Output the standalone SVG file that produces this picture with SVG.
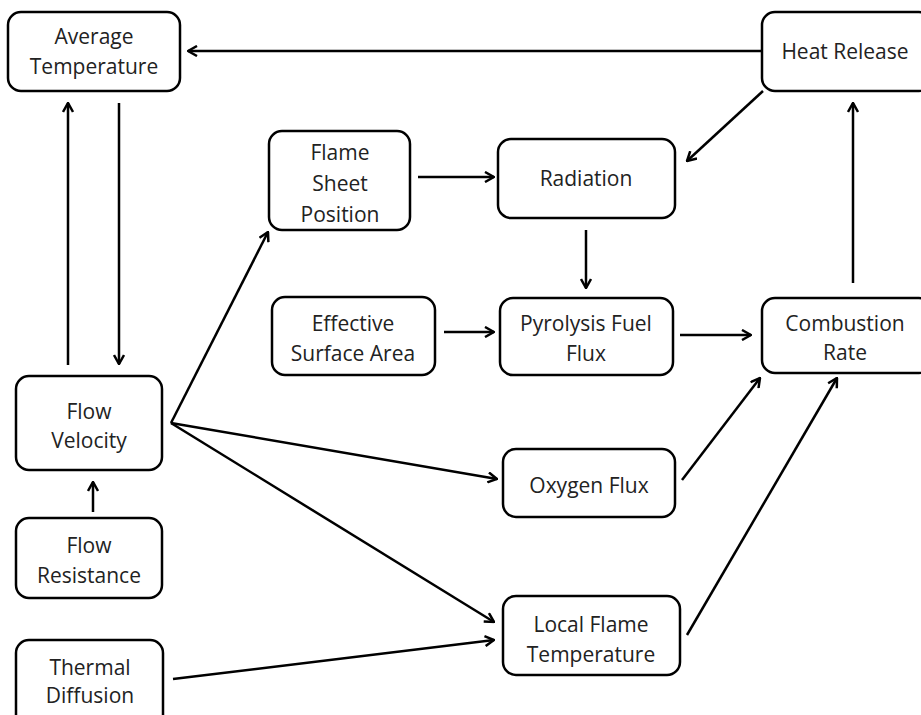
<svg xmlns="http://www.w3.org/2000/svg" width="921" height="715" viewBox="0 0 921 715">
<style>
.box{fill:#fff;stroke:#000;stroke-width:2.5}
.lbl{font-family:"Open Sans","Liberation Sans",sans-serif;font-size:21px;fill:#222;text-anchor:middle}
.con{fill:none;stroke:#000;stroke-width:2.5}
</style>
<defs>
<marker id="ah" viewBox="0 0 12 12" refX="11" refY="6" markerWidth="12" markerHeight="12" markerUnits="userSpaceOnUse" orient="auto">
<path d="M2,1 L11,6 L2,11" fill="none" stroke="#000" stroke-width="2.5"/>
</marker>
</defs>
<rect width="921" height="715" fill="#fff"/>
<g id="connectors">
<path class="con" marker-end="url(#ah)" d="M762,51 L188,51"/>
<path class="con" marker-end="url(#ah)" d="M763,91 L687,161"/>
<path class="con" marker-end="url(#ah)" d="M586,230 L586,288"/>
<path class="con" marker-end="url(#ah)" d="M418,177 L494,177"/>
<path class="con" marker-end="url(#ah)" d="M444,332 L494,332"/>
<path class="con" marker-end="url(#ah)" d="M680,335 L751,335"/>
<path class="con" marker-end="url(#ah)" d="M853,283 L853,103"/>
<path class="con" marker-end="url(#ah)" d="M682,480 L760,378"/>
<path class="con" marker-end="url(#ah)" d="M687,635 L837,378"/>
<path class="con" marker-end="url(#ah)" d="M68,365 L68,103"/>
<path class="con" marker-end="url(#ah)" d="M119,103 L119,364"/>
<path class="con" marker-end="url(#ah)" d="M93,512 L93,482"/>
<path class="con" marker-end="url(#ah)" d="M171,423 L268,232"/>
<path class="con" marker-end="url(#ah)" d="M171,423 L497,479"/>
<path class="con" marker-end="url(#ah)" d="M171,423 L494,622"/>
<path class="con" marker-end="url(#ah)" d="M173,679 L494,640"/>
</g>
<g id="average-temperature">
<rect class="box" x="8" y="12" width="172" height="79" rx="13"/>
<text class="lbl" x="94" y="44">Average</text>
<text class="lbl" x="94" y="74">Temperature</text>
</g>
<g id="heat-release">
<rect class="box" x="762" y="12" width="170" height="79" rx="13"/>
<text class="lbl" x="845" y="59">Heat Release</text>
</g>
<g id="flame-sheet-position">
<rect class="box" x="269" y="131" width="141" height="99" rx="13"/>
<text class="lbl" x="340" y="160">Flame</text>
<text class="lbl" x="340" y="191">Sheet</text>
<text class="lbl" x="340" y="222">Position</text>
</g>
<g id="radiation">
<rect class="box" x="498" y="139" width="177" height="79" rx="13"/>
<text class="lbl" x="586" y="186">Radiation</text>
</g>
<g id="effective-surface-area">
<rect class="box" x="272" y="297" width="163" height="78" rx="13"/>
<text class="lbl" x="353" y="331">Effective</text>
<text class="lbl" x="353" y="361">Surface Area</text>
</g>
<g id="pyrolysis-fuel-flux">
<rect class="box" x="500" y="298" width="173" height="77" rx="13"/>
<text class="lbl" x="586" y="331">Pyrolysis Fuel</text>
<text class="lbl" x="586" y="361">Flux</text>
</g>
<g id="combustion-rate">
<rect class="box" x="762" y="298" width="170" height="75" rx="13"/>
<text class="lbl" x="845" y="331">Combustion</text>
<text class="lbl" x="845" y="360">Rate</text>
</g>
<g id="flow-velocity">
<rect class="box" x="16" y="376" width="146" height="94" rx="13"/>
<text class="lbl" x="89" y="419">Flow</text>
<text class="lbl" x="89" y="448">Velocity</text>
</g>
<g id="flow-resistance">
<rect class="box" x="16" y="518" width="146" height="80" rx="13"/>
<text class="lbl" x="89" y="553">Flow</text>
<text class="lbl" x="89" y="583">Resistance</text>
</g>
<g id="thermal-diffusion">
<rect class="box" x="16" y="640" width="147" height="90" rx="13"/>
<text class="lbl" x="90" y="675">Thermal</text>
<text class="lbl" x="90" y="703">Diffusion</text>
</g>
<g id="oxygen-flux">
<rect class="box" x="503" y="449" width="172" height="68" rx="13"/>
<text class="lbl" x="589" y="493">Oxygen Flux</text>
</g>
<g id="local-flame-temperature">
<rect class="box" x="503" y="596" width="177" height="79" rx="13"/>
<text class="lbl" x="591" y="632">Local Flame</text>
<text class="lbl" x="591" y="662">Temperature</text>
</g>
</svg>
